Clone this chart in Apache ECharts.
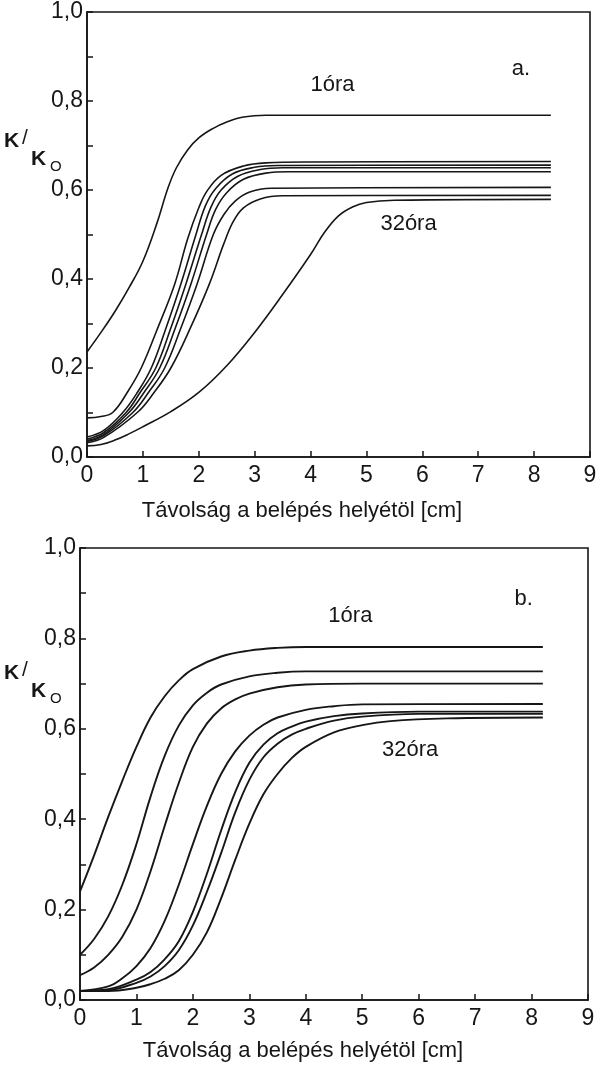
<!DOCTYPE html>
<html>
<head>
<meta charset="utf-8">
<title>K/K0</title>
<script src="https://cdn.jsdelivr.net/npm/echarts@6/dist/echarts.min.js"></script>
<style>
  html, body { margin: 0; padding: 0; background: #fff; }
  #main { width: 606px; height: 1077px; }
</style>
</head>
<body>
<div id="main"></div>
<script>
// a. panel (8 curves, 1 óra on top, 32 óra at the bottom)
const aCurve1 = [[0, 0.236], [0.25, 0.28], [0.5, 0.327], [0.75, 0.38], [1.0, 0.44], [1.25, 0.525], [1.45, 0.605], [1.6, 0.65], [1.8, 0.69], [2.0, 0.717], [2.25, 0.738], [2.5, 0.753], [2.8, 0.764], [3.2, 0.768], [8.3, 0.768]]
const aCurve2 = [[0, 0.088], [0.25, 0.091], [0.46, 0.1], [0.72, 0.145], [0.97, 0.2], [1.25, 0.285], [1.57, 0.389], [1.8, 0.49], [2.0, 0.56], [2.15, 0.598], [2.4, 0.633], [2.8, 0.654], [3.2, 0.661], [4, 0.663], [8.3, 0.664]]
const aCurve3 = [[0, 0.045], [0.3, 0.06], [0.64, 0.1], [0.9, 0.145], [1.15, 0.2], [1.4, 0.285], [1.68, 0.389], [1.95, 0.5], [2.12, 0.565], [2.3, 0.603], [2.6, 0.636], [3.0, 0.651], [3.4, 0.655], [8.3, 0.656]]
const aCurve4 = [[0, 0.04], [0.3, 0.055], [0.7, 0.1], [0.95, 0.145], [1.23, 0.2], [1.5, 0.29], [1.77, 0.389], [2.05, 0.5], [2.22, 0.562], [2.4, 0.6], [2.7, 0.631], [3.1, 0.646], [3.5, 0.65], [8.3, 0.65]]
const aCurve5 = [[0, 0.037], [0.3, 0.051], [0.75, 0.1], [1.02, 0.145], [1.3, 0.2], [1.58, 0.29], [1.86, 0.389], [2.14, 0.5], [2.3, 0.556], [2.5, 0.594], [2.8, 0.624], [3.2, 0.638], [3.6, 0.641], [8.3, 0.641]]
const aCurve6 = [[0, 0.035], [0.3, 0.048], [0.82, 0.1], [1.1, 0.145], [1.39, 0.2], [1.68, 0.29], [1.97, 0.389], [2.26, 0.5], [2.45, 0.545], [2.65, 0.575], [2.9, 0.595], [3.3, 0.604], [8.3, 0.606]]
const aCurve7 = [[0, 0.032], [0.3, 0.044], [0.9, 0.1], [1.2, 0.145], [1.5, 0.2], [1.85, 0.29], [2.19, 0.389], [2.45, 0.48], [2.62, 0.53], [2.8, 0.56], [3.1, 0.58], [3.5, 0.587], [8.3, 0.588]]
const aCurve8 = [[0, 0.025], [0.25, 0.028], [0.5, 0.038], [0.75, 0.052], [1.0, 0.068], [1.5, 0.102], [2.0, 0.145], [2.5, 0.205], [3.0, 0.28], [3.5, 0.365], [4.0, 0.455], [4.25, 0.505], [4.5, 0.542], [4.75, 0.562], [5.0, 0.572], [5.5, 0.577], [8.3, 0.579]]

// b. panel (7 curves)
const bCurve1 = [[0, 0.24], [0.25, 0.32], [0.5, 0.405], [0.75, 0.485], [1.0, 0.56], [1.25, 0.625], [1.5, 0.672], [1.75, 0.707], [2.0, 0.732], [2.5, 0.76], [3.0, 0.773], [3.5, 0.779], [4.0, 0.781], [8.2, 0.781]]
const bCurve2 = [[0, 0.1], [0.25, 0.135], [0.5, 0.185], [0.75, 0.255], [1.0, 0.345], [1.25, 0.45], [1.5, 0.54], [1.75, 0.607], [2.0, 0.652], [2.25, 0.68], [2.5, 0.698], [3.0, 0.716], [3.5, 0.724], [4.0, 0.727], [8.2, 0.727]]
const bCurve3 = [[0, 0.055], [0.25, 0.072], [0.5, 0.1], [0.75, 0.14], [1.0, 0.2], [1.25, 0.285], [1.5, 0.385], [1.75, 0.48], [2.0, 0.56], [2.25, 0.612], [2.5, 0.645], [2.75, 0.665], [3.0, 0.678], [3.5, 0.692], [4.0, 0.698], [5, 0.7], [8.2, 0.7]]
const bCurve4 = [[0, 0.02], [0.5, 0.03], [0.75, 0.048], [1.0, 0.075], [1.25, 0.115], [1.5, 0.175], [1.75, 0.255], [2.0, 0.345], [2.25, 0.43], [2.5, 0.5], [2.75, 0.55], [3.0, 0.585], [3.25, 0.609], [3.5, 0.625], [4.0, 0.642], [4.5, 0.65], [5, 0.654], [8.2, 0.655]]
const bCurve5 = [[0, 0.02], [0.5, 0.024], [1.0, 0.045], [1.25, 0.062], [1.5, 0.09], [1.75, 0.13], [2.0, 0.195], [2.25, 0.28], [2.5, 0.375], [2.75, 0.46], [3.0, 0.525], [3.25, 0.565], [3.5, 0.59], [3.75, 0.605], [4.0, 0.616], [4.5, 0.628], [5, 0.634], [6, 0.638], [8.2, 0.638]]
const bCurve6 = [[0, 0.02], [0.5, 0.022], [1.0, 0.038], [1.25, 0.052], [1.5, 0.075], [1.75, 0.11], [2.0, 0.165], [2.25, 0.24], [2.5, 0.325], [2.75, 0.415], [3.0, 0.487], [3.25, 0.537], [3.5, 0.567], [3.75, 0.587], [4.0, 0.6], [4.5, 0.618], [5, 0.627], [6, 0.633], [8.2, 0.633]]
const bCurve7 = [[0, 0.02], [0.5, 0.02], [1.0, 0.027], [1.25, 0.035], [1.5, 0.047], [1.75, 0.066], [2.0, 0.1], [2.25, 0.15], [2.5, 0.225], [2.75, 0.31], [3.0, 0.39], [3.25, 0.455], [3.5, 0.5], [3.75, 0.535], [4.0, 0.56], [4.5, 0.592], [5.0, 0.608], [5.5, 0.617], [6.5, 0.623], [8.2, 0.625]]

const xTicks = [0, 1, 2, 3, 4, 5, 6, 7, 8, 9]
const yTicks = [0, 0.2, 0.4, 0.6, 0.8, 1.0]
const xTitle = 'Távolság a belépés helyétöl [cm]'
const notes = [
  // [grid, x, y, text]
  [0, 4.0, 0.835, '1óra'],
  [0, 7.6, 0.873, 'a.'],
  [0, 5.25, 0.523, '32óra'],
  [1, 4.4, 0.85, '1óra'],
  [1, 7.7, 0.888, 'b.'],
  [1, 5.35, 0.554, '32óra']
]

const ink = '#161616'
const font = '"Liberation Sans", Arial, Helvetica, sans-serif'

function xAxisFor (gridIndex) {
  return {
    type: 'value',
    gridIndex: gridIndex,
    min: xTicks[0],
    max: xTicks[xTicks.length - 1],
    interval: 1,
    axisLine: { show: true, lineStyle: { color: ink, width: 1.6 } },
    axisTick: { show: true, inside: true, length: 6, lineStyle: { color: ink, width: 1.5 } },
    axisLabel: { color: ink, fontSize: 23, fontFamily: font, margin: 7 },
    splitLine: { show: false }
  }
}

function yAxisFor (gridIndex) {
  return {
    type: 'value',
    gridIndex: gridIndex,
    min: yTicks[0],
    max: yTicks[yTicks.length - 1],
    interval: 0.1,
    axisLine: { show: true, lineStyle: { color: ink, width: 1.6 } },
    axisTick: { show: true, inside: true, length: 6, lineStyle: { color: ink, width: 1.5 } },
    axisLabel: {
      color: ink,
      fontSize: 23,
      fontFamily: font,
      margin: 4,
      formatter: function (v) {
        let tenth = Math.round(v * 10)
        if (tenth % 2 !== 0) return ''
        return (tenth / 10).toFixed(1).replace('.', ',')
      }
    },
    splitLine: { show: false }
  }
}

function curves (list, gridIndex, width) {
  return list.map((d, i) => ({
    name: (gridIndex === 0 ? 'a' : 'b') + (i + 1),
    type: 'line',
    xAxisIndex: gridIndex,
    yAxisIndex: gridIndex,
    data: d,
    showSymbol: false,
    smooth: 0.4,
    lineStyle: { color: ink, width: width },
    silent: true
  }))
}

let myChart = echarts.init(document.getElementById('main'))
let option = {
  backgroundColor: '#fff',
  animation: false,
  grid: [
    { left: 87, top: 12, width: 503, height: 445, show: true, borderColor: ink, borderWidth: 1.6 },
    { left: 80, top: 548, width: 508, height: 452, show: true, borderColor: ink, borderWidth: 1.6 }
  ],
  xAxis: [xAxisFor(0), xAxisFor(1)],
  yAxis: [yAxisFor(0), yAxisFor(1)],
  series: [].concat(
    curves([aCurve1, aCurve2, aCurve3, aCurve4, aCurve5, aCurve6, aCurve7, aCurve8], 0, 1.6),
    curves([bCurve1, bCurve2, bCurve3, bCurve4, bCurve5, bCurve6, bCurve7], 1, 1.9)
  )
}
myChart.setOption(option)

// texts placed in data coordinates, y-axis name drawn by hand (K/Ko)
let graphics = []
notes.forEach(n => {
  let p = myChart.convertToPixel({ gridIndex: n[0] }, [n[1], n[2]])
  graphics.push({
    type: 'text', x: p[0], y: p[1],
    style: { text: n[3], fill: ink, font: '22px ' + font, textVerticalAlign: 'middle' }
  })
})

;[0, 532].forEach(dy => {
  graphics.push({ type: 'text', x: 4, y: 141 + dy, style: { text: 'K', fill: ink, font: 'bold 21px ' + font, textVerticalAlign: 'middle' } })
  graphics.push({ type: 'text', x: 22, y: 138 + dy, style: { text: '/', fill: ink, font: '21px ' + font, textVerticalAlign: 'middle' } })
  graphics.push({ type: 'text', x: 31, y: 159 + dy, style: { text: 'K', fill: ink, font: 'bold 21px ' + font, textVerticalAlign: 'middle' } })
  graphics.push({ type: 'text', x: 50, y: 167 + dy, style: { text: 'O', fill: ink, font: '15px ' + font, textVerticalAlign: 'middle' } })
})

graphics.push({ type: 'text', x: 302, y: 511, style: { text: xTitle, fill: ink, font: '22px ' + font, textAlign: 'center', textVerticalAlign: 'middle' } })
graphics.push({ type: 'text', x: 303, y: 1051, style: { text: xTitle, fill: ink, font: '22px ' + font, textAlign: 'center', textVerticalAlign: 'middle' } })

myChart.setOption({ graphic: graphics })
</script>
</body>
</html>
